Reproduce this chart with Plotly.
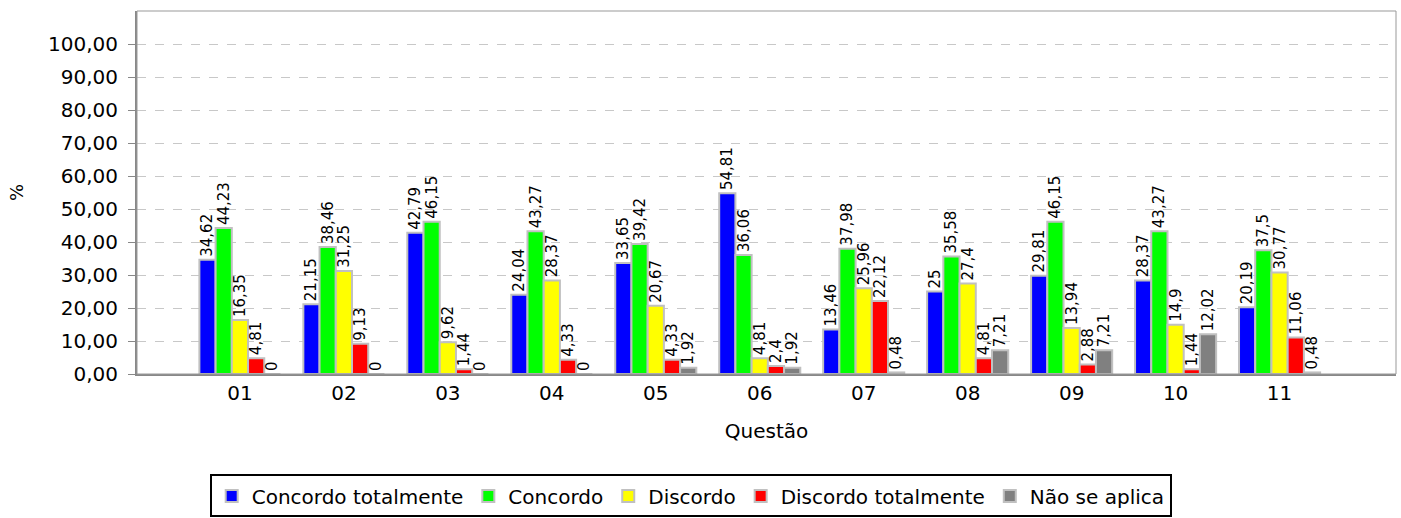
# %% Imports
import plotly.graph_objects as go

# %% Dados
questoes = ['01', '02', '03', '04', '05', '06', '07', '08', '09', '10', '11']
series = ['Concordo totalmente', 'Concordo', 'Discordo', 'Discordo totalmente', 'Não se aplica']
cores = ['#0000ff', '#00ff00', '#ffff00', '#ff0000', '#808080']

concordo_tot = [34.62, 21.15, 42.79, 24.04, 33.65, 54.81, 13.46, 25, 29.81, 28.37, 20.19]
concordo = [44.23, 38.46, 46.15, 43.27, 39.42, 36.06, 37.98, 35.58, 46.15, 43.27, 37.5]
discordo = [16.35, 31.25, 9.62, 28.37, 20.67, 4.81, 25.96, 27.4, 13.94, 14.9, 30.77]
discordo_tot = [4.81, 9.13, 1.44, 4.33, 4.33, 2.4, 22.12, 4.81, 2.88, 1.44, 11.06]
nao_aplica = [0, 0, 0, 0, 1.92, 1.92, 0.48, 7.21, 7.21, 12.02, 0.48]

valores = [concordo_tot, concordo, discordo, discordo_tot, nao_aplica]


def rotulo(v):
    return f"{v:g}".replace('.', ',')


# %% Figura
fig = go.Figure()
for nome, cor, vals in zip(series, cores, valores):
    fig.add_trace(go.Bar(
        x=questoes, y=vals, name=nome,
        marker=dict(color=cor, line=dict(color='#c0c0c0', width=2)),
        text=[rotulo(v) for v in vals],
        textposition='outside', textangle=-90, cliponaxis=False,
        textfont=dict(family='DejaVu Sans', size=15, color='black'),
    ))

fig.update_layout(
    width=1401, height=518,
    barmode='group', bargap=0.22, bargroupgap=0.0,
    separators=',.',
    paper_bgcolor='white', plot_bgcolor='white',
    font=dict(family='DejaVu Sans', size=20, color='black'),
    margin=dict(l=137, r=5, t=11, b=144, autoexpand=False),
    uniformtext=dict(mode='show', minsize=15),
    legend=dict(
        orientation='h', xref='container', yref='container',
        x=0.493, xanchor='center', y=0.084, yanchor='top',
        bordercolor='black', borderwidth=2, font=dict(size=20),
        traceorder='normal', tracegroupgap=0,
    ),
)
fig.update_xaxes(
    type='category', range=[-0.99, 11.12], automargin=False,
    showline=True, linecolor='#888888', linewidth=2,
    ticks='', title=dict(text='Questão', standoff=20, font=dict(size=20)),
)
fig.update_yaxes(
    range=[0, 110], tickvals=[0, 10, 20, 30, 40, 50, 60, 70, 80, 90, 100],
    tickformat='.2f', showgrid=True, gridcolor='#c8c8c8', griddash='dash',
    showline=True, linecolor='#888888', linewidth=2, automargin=False,
    ticks='outside', ticklen=7, tickcolor='#888888', ticklabelstandoff=6,
    title=dict(text='%', standoff=20, font=dict(size=18)), zeroline=False,
)
# moldura fina em cima e a direita
fig.add_shape(type='rect', xref='paper', yref='paper', x0=0, y0=0, x1=1, y1=1,
              line=dict(color='#999999', width=1), layer='above')

# sem margem do body, para a figura ocupar a janela toda
fig.write_html("out.html", config={'displayModeBar': False},
               post_script="document.body.style.margin='0';")
